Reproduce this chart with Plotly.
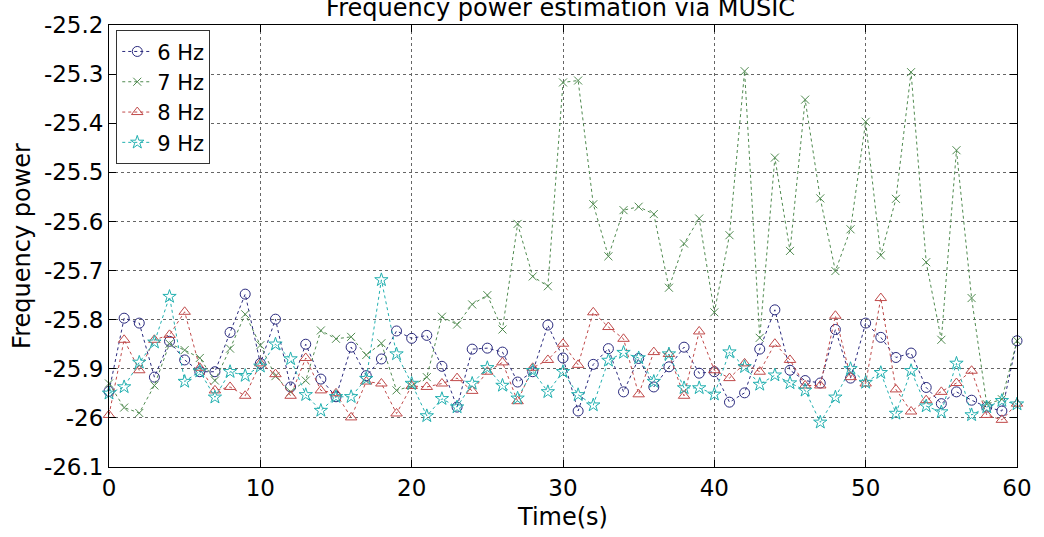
import plotly.graph_objects as go

time_s = list(range(61))

hz6 = [-25.946, -25.797, -25.807, -25.917, -25.844, -25.882, -25.906, -25.906, -25.826, -25.748,
       -25.889, -25.799, -25.937, -25.850, -25.921, -25.957, -25.856, -25.914, -25.880, -25.823,
       -25.838, -25.832, -25.895, -25.978, -25.860, -25.858, -25.866, -25.927, -25.906, -25.811,
       -25.878, -25.986, -25.891, -25.859, -25.947, -25.879, -25.937, -25.896, -25.856, -25.909,
       -25.906, -25.968, -25.949, -25.860, -25.780, -25.903, -25.924, -25.929, -25.820, -25.919,
       -25.807, -25.836, -25.877, -25.868, -25.938, -25.971, -25.947, -25.964, -25.978, -25.986,
       -25.843]

hz7 = [-25.930, -25.979, -25.990, -25.934, -25.849, -25.862, -25.878, -25.924, -25.859, -25.789,
       -25.852, -25.915, -25.947, -25.924, -25.822, -25.839, -25.835, -25.872, -25.848, -25.944,
       -25.935, -25.917, -25.794, -25.810, -25.769, -25.750, -25.820, -25.605, -25.712, -25.732,
       -25.317, -25.313, -25.565, -25.671, -25.577, -25.570, -25.585, -25.735, -25.645, -25.594,
       -25.785, -25.628, -25.294, -25.837, -25.470, -25.660, -25.352, -25.553, -25.701, -25.616,
       -25.397, -25.669, -25.554, -25.296, -25.683, -25.841, -25.455, -25.756, -25.972, -25.962,
       -25.843]

hz8 = [-25.994, -25.841, -25.903, -25.841, -25.831, -25.784, -25.898, -25.944, -25.937, -25.955,
       -25.889, -25.911, -25.955, -25.878, -25.944, -25.950, -25.999, -25.926, -25.930, -25.991,
       -25.935, -25.937, -25.930, -25.919, -25.945, -25.906, -25.887, -25.966, -25.898, -25.882,
       -25.849, -25.892, -25.785, -25.815, -25.839, -25.952, -25.866, -25.870, -25.955, -25.824,
       -25.903, -25.919, -25.889, -25.906, -25.849, -25.882, -25.934, -25.934, -25.792, -25.917,
       -25.930, -25.756, -25.942, -25.987, -25.964, -25.947, -25.929, -25.904, -25.994, -26.004,
       -25.971]

hz9 = [-25.950, -25.937, -25.887, -25.846, -25.753, -25.926, -25.905, -25.958, -25.906, -25.914,
       -25.895, -25.850, -25.880, -25.953, -25.985, -25.957, -25.957, -25.920, -25.719, -25.870,
       -25.930, -25.996, -25.961, -25.978, -25.930, -25.898, -25.934, -25.960, -25.904, -25.947,
       -25.906, -25.953, -25.974, -25.883, -25.867, -25.878, -25.926, -25.870, -25.939, -25.939,
       -25.952, -25.866, -25.896, -25.932, -25.913, -25.929, -25.944, -26.009, -25.958, -25.900,
       -25.928, -25.908, -25.991, -25.904, -25.976, -25.988, -25.889, -25.994, -25.978, -25.965,
       -25.972]

series_names = ["6 Hz", "7 Hz", "8 Hz", "9 Hz"]
x_tick_vals = [0, 10, 20, 30, 40, 50, 60]
x_tick_text = ["0", "10", "20", "30", "40", "50", "60"]
y_tick_vals = [-26.1, -26.0, -25.9, -25.8, -25.7, -25.6, -25.5, -25.4, -25.3, -25.2]
y_tick_text = ["-26.1", "-26", "-25.9", "-25.8", "-25.7", "-25.6", "-25.5", "-25.4", "-25.3", "-25.2"]

styles = [
    dict(color="#2a2a7e", symbol="circle-open", size=10),
    dict(color="#4f8a4f", symbol="x-thin-open", size=8),
    dict(color="#c04a4a", symbol="triangle-up-open", size=10),
    dict(color="#22b0b0", symbol="star-open", size=10),
]

fig = go.Figure()
for name, ys, st in zip(series_names, [hz6, hz7, hz8, hz9], styles):
    fig.add_trace(go.Scatter(
        x=time_s, y=ys, name=name, mode="lines+markers",
        line=dict(color=st["color"], width=1, dash="dot"),
        marker=dict(symbol=st["symbol"], size=st["size"], color=st["color"],
                    line=dict(color=st["color"], width=1)),
        cliponaxis=False,
    ))

font_family = "DejaVu Sans, Liberation Sans, Arial, sans-serif"
axis_common = dict(
    showline=True, linecolor="black", linewidth=1, mirror="ticks",
    ticks="inside", ticklen=7, tickcolor="black",
    showgrid=True, gridcolor="#666666", griddash="dot", gridwidth=1,
    zeroline=False,
    tickfont=dict(family=font_family, size=23, color="black"),
)

fig.update_layout(
    width=1044, height=537,
    margin=dict(l=109, r=15, t=21, b=55),
    paper_bgcolor="white", plot_bgcolor="white",
    font=dict(family=font_family, color="black"),
    title=dict(text="Frequency power estimation via MUSIC", x=0.537, xanchor="center",
               y=0.985, yref="container", yanchor="middle",
               font=dict(family=font_family, size=24, color="black")),
    xaxis=dict(range=[0, 60], tickvals=x_tick_vals, ticktext=x_tick_text,
               title=dict(text="Time(s)", font=dict(family=font_family, size=24), standoff=8),
               **axis_common),
    yaxis=dict(range=[-26.1, -25.2], tickvals=y_tick_vals, ticktext=y_tick_text,
               title=dict(text="Frequency power", font=dict(family=font_family, size=24), standoff=6),
               **axis_common),
    legend=dict(x=0.008, y=0.988, xanchor="left", yanchor="top",
                bgcolor="white", bordercolor="#333333", borderwidth=1,
                font=dict(family=font_family, size=21, color="black"),
                tracegroupgap=0, itemwidth=30),
    showlegend=True,
)

fig.write_html("out.html")
